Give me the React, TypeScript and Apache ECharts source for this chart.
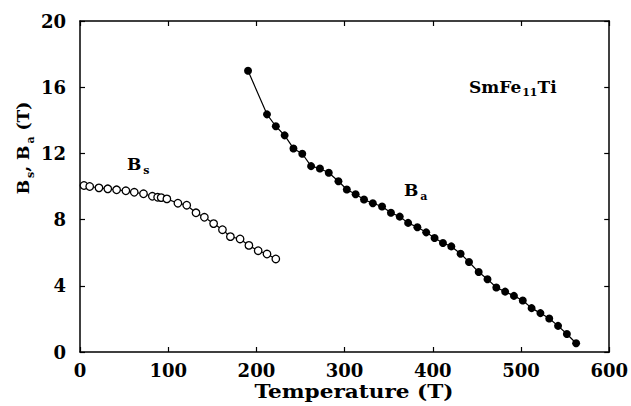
import React, { useEffect, useRef } from "react";
import * as echarts from "echarts";

const bsTemp = [4.5, 11, 21.5, 31.5, 41.5, 52, 61.5, 72, 82, 88, 92, 98.5, 111, 121, 131.5, 141, 151.5, 161.5, 170.5, 181.5, 191.5, 202, 212, 222];
const bsVal = [10.06, 10.0, 9.92, 9.86, 9.8, 9.74, 9.65, 9.56, 9.41, 9.35, 9.33, 9.25, 8.99, 8.87, 8.41, 8.14, 7.76, 7.39, 6.97, 6.83, 6.44, 6.12, 5.92, 5.62];

const baTemp = [190.5, 212, 222, 232, 242, 252, 262, 272, 282, 293, 302.5, 312.5, 322, 332, 342.5, 352.5, 362.5, 372, 382.5, 392.5, 402, 411.5, 421, 431.5, 441, 452, 462, 472, 482, 492, 502, 512, 522, 532, 542, 552, 562.5];
const baVal = [16.99, 14.36, 13.64, 13.09, 12.3, 11.98, 11.23, 11.09, 10.83, 10.32, 9.82, 9.53, 9.21, 8.99, 8.79, 8.41, 8.18, 7.8, 7.54, 7.23, 6.89, 6.59, 6.38, 5.94, 5.44, 4.83, 4.4, 3.9, 3.65, 3.39, 3.11, 2.65, 2.35, 2.02, 1.58, 1.09, 0.53];

const xTicks = [0, 100, 200, 300, 400, 500, 600];
const yTicks = [0, 4, 8, 12, 16, 20];
const xName = "Temperature (T)";

const FONT = "DejaVu Serif";

export default function App() {
  const ref = useRef<HTMLDivElement>(null);
  useEffect(() => {
    document.body.style.margin = "0";
    const chart = echarts.init(ref.current!, null, { renderer: "svg" });
    const axisCommon = {
      axisLine: { show: true, onZero: false, lineStyle: { color: "#000", width: 1.5 } },
      axisTick: { show: true, inside: true, length: 5, lineStyle: { color: "#000", width: 1.2 } },
      splitLine: { show: false },
    };
    const labelStyle = { color: "#000", fontFamily: FONT, fontWeight: "bold" as const, fontSize: 18 };
    const sub = {
      b: { fontFamily: FONT, fontWeight: "bold", fontSize: 17, color: "#000" },
      s: { fontFamily: FONT, fontWeight: "bold", fontSize: 11, color: "#000", padding: [14, 0, 0, 2] },
    };
    chart.setOption({
      animation: false,
      backgroundColor: "#fff",
      grid: { left: 80, right: 21, top: 21, bottom: 54, containLabel: false },
      xAxis: [
        {
          type: "value", min: 0, max: 600, interval: 100, position: "bottom",
          ...axisCommon,
          axisLabel: { ...labelStyle, margin: 9, formatter: (v: number) => (xTicks.includes(v) ? String(v) : "") },
        },
        {
          type: "value", min: 0, max: 600, interval: 100, position: "top",
          ...axisCommon, axisLabel: { show: false },
        },
      ],
      yAxis: [
        {
          type: "value", min: 0, max: 20, interval: 4, position: "left",
          ...axisCommon,
          axisLabel: { ...labelStyle, margin: 14, formatter: (v: number) => (yTicks.includes(v) ? String(v) : "") },
        },
        {
          type: "value", min: 0, max: 20, interval: 4, position: "right",
          ...axisCommon, axisLabel: { show: false },
        },
      ],
      series: [
        {
          type: "line",
          data: bsTemp.map((t, i) => [t, bsVal[i]]),
          symbol: "circle", symbolSize: 7.5, showAllSymbol: true,
          lineStyle: { color: "#000", width: 1.2 },
          itemStyle: { color: "#fff", borderColor: "#000", borderWidth: 1.3 },
          z: 3,
        },
        {
          type: "line",
          data: baTemp.map((t, i) => [t, baVal[i]]),
          symbol: "circle", symbolSize: 8, showAllSymbol: true,
          lineStyle: { color: "#000", width: 1.2 },
          itemStyle: { color: "#000", borderColor: "#000", borderWidth: 0 },
          z: 3,
        },
      ],
      graphic: [
        {
          type: "text", x: 354, y: 392, scaleX: 1.2,
          style: {
            text: xName, fill: "#000", font: `bold 18px "${FONT}"`,
            align: "center", verticalAlign: "middle",
          },
        },
        {
          type: "text", left: 127, top: 155,
          style: { text: "{b|B}{s|s}", rich: sub },
        },
        {
          type: "text", left: 404, top: 181,
          style: { text: "{b|B}{s|a}", rich: sub },
        },
        {
          type: "text", left: 469, top: 78,
          style: {
            text: "{b|SmFe}{s|11}{b|Ti}",
            rich: {
              b: { fontFamily: FONT, fontWeight: "bold", fontSize: 17, color: "#000" },
              s: { fontFamily: FONT, fontWeight: "bold", fontSize: 11, color: "#000", padding: [12, 0, 0, 1] },
            },
          },
        },
        {
          type: "text", x: 23, y: 148, rotation: Math.PI / 2,
          style: {
            text: "{b|B}{s|s}{b|, B}{s|a}{b| (T)}",
            rich: sub,
            align: "center", verticalAlign: "middle",
          },
        },
      ],
    });
    return () => chart.dispose();
  }, []);
  return <div ref={ref} style={{ width: 631, height: 406 }} />;
}
